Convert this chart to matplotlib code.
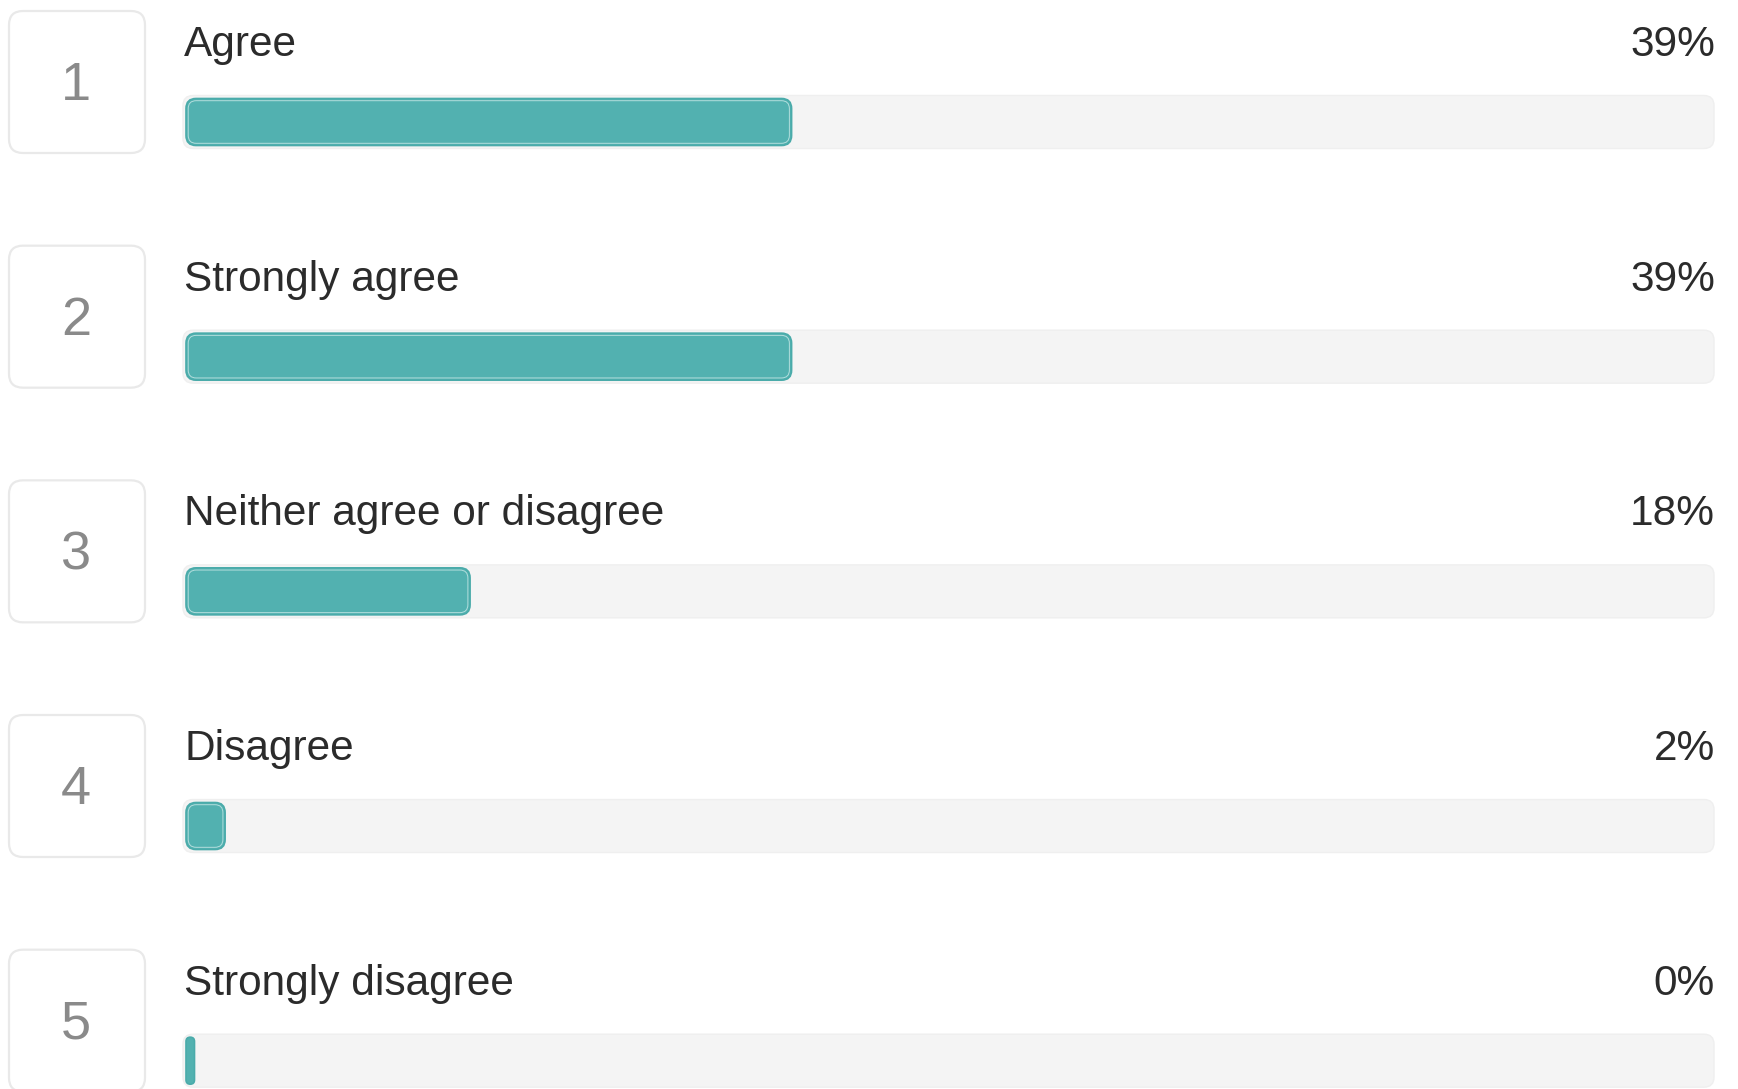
import matplotlib
matplotlib.use("Agg")
import matplotlib.pyplot as plt
from matplotlib.patches import FancyBboxPatch

# ---- data ----
ranks = ["1", "2", "3", "4", "5"]
answers = ["Agree", "Strongly agree", "Neither agree or disagree", "Disagree", "Strongly disagree"]
percents = [39, 39, 18, 2, 0]
pct_labels = ["39%", "39%", "18%", "2%", "0%"]

# ---- layout (pixels of a 1738x1089 canvas) ----
W, H = 1738, 1089
TRACK_L, TRACK_W = 183, 1531
PITCH = 234.67
TRACK_TOP, TRACK_H = 95.5, 53
ROW_C = TRACK_TOP + TRACK_H / 2

plt.rcParams['font.family'] = ['Liberation Sans', 'DejaVu Sans']
fig = plt.figure(figsize=(W / 100, H / 100), dpi=100)
fig.patch.set_facecolor("white")
ax = fig.add_axes([TRACK_L / W, 0, TRACK_W / W, 1])
ax.set_xlim(0, 100)
ax.set_ylim((H - ROW_C) / PITCH, -ROW_C / PITCH)
ax.axis("off")

xu = 100 / TRACK_W          # x data units per pixel
yu = 1 / PITCH              # y data units per pixel
asp = yu / xu


def px_x(p):
    return (p - TRACK_L) * xu


def px_y(p, i):
    return i + (p - ROW_C) * yu


def rbox(x0, y0, w, h, r, **kw):
    r = min(r, w / 2)
    p = FancyBboxPatch((x0, y0), w, h,
                       boxstyle=f"round,pad=0,rounding_size={r}",
                       mutation_aspect=asp, clip_on=False, **kw)
    ax.add_patch(p)
    return p


for i, (rk, ans, v, lab) in enumerate(zip(ranks, answers, percents, pct_labels)):
    # rank box
    bx0, bx1 = px_x(9), px_x(145)
    by0 = px_y(11, i)
    rbox(bx0, by0, bx1 - bx0, 142 * yu, 14 * xu,
         facecolor="white", edgecolor="#e9e9e9", linewidth=1.6)
    ax.text(px_x(76), px_y(100, i), rk, ha="center", va="baseline",
            fontsize=39, color="#8a8a8a")

    # answer label and percent
    ax.text(px_x(184), px_y(56, i), ans, ha="left", va="baseline",
            fontsize=30.5, color="#2b2b2b")
    ax.text(px_x(1715), px_y(56, i), lab, ha="right", va="baseline",
            fontsize=30.5, color="#2b2b2b")

    # track
    rbox(0, i - TRACK_H / 2 * yu, 100, TRACK_H * yu, 10 * xu,
         facecolor="#f4f4f4", edgecolor="#efefef", linewidth=1.0)

    # fill
    fx0 = 3 * xu
    fw = v + 8.5 * xu
    fh = (TRACK_H - 6) * yu
    fy0 = i - fh / 2
    rbox(fx0, fy0, fw, fh, 10 * xu,
         facecolor="#52b1b0", edgecolor="#4aabaa", linewidth=1.2)
    if fw > 12 * xu:
        ins = 2.2
        rbox(fx0 + ins * xu, fy0 + ins * yu, fw - 2 * ins * xu, fh - 2 * ins * yu,
             8 * xu, facecolor="none", edgecolor="#b3dedd", linewidth=0.7)

fig.savefig("out.png", dpi=100, facecolor="white")
